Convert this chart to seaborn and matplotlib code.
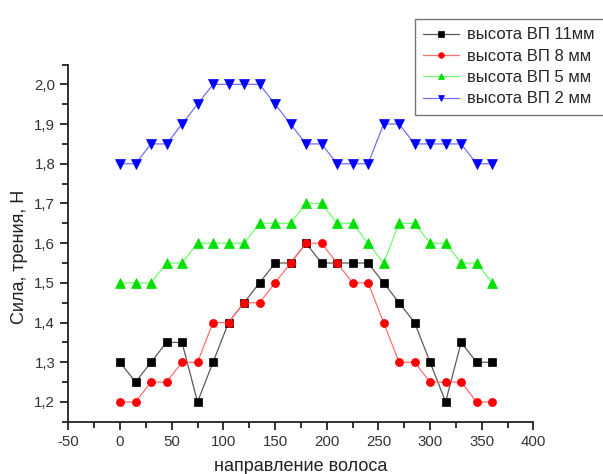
import numpy as np
import pandas as pd
import matplotlib
matplotlib.use("Agg")
import matplotlib.pyplot as plt
import seaborn as sns
from matplotlib.ticker import MultipleLocator, FuncFormatter

angles = [0, 15, 30, 45, 60, 75, 90, 105, 120, 135, 150, 165, 180, 195, 210,
          225, 240, 255, 270, 285, 300, 315, 330, 345, 360]
h11 = [1.30, 1.25, 1.30, 1.35, 1.35, 1.20, 1.30, 1.40, 1.45, 1.50, 1.55, 1.55, 1.60,
       1.55, 1.55, 1.55, 1.55, 1.50, 1.45, 1.40, 1.30, 1.20, 1.35, 1.30, 1.30]
h8 = [1.20, 1.20, 1.25, 1.25, 1.30, 1.30, 1.40, 1.40, 1.45, 1.45, 1.50, 1.55, 1.60,
      1.60, 1.55, 1.50, 1.50, 1.40, 1.30, 1.30, 1.25, 1.25, 1.25, 1.20, 1.20]
h5 = [1.50, 1.50, 1.50, 1.55, 1.55, 1.60, 1.60, 1.60, 1.60, 1.65, 1.65, 1.65, 1.70,
      1.70, 1.65, 1.65, 1.60, 1.55, 1.65, 1.65, 1.60, 1.60, 1.55, 1.55, 1.50]
h2 = [1.80, 1.80, 1.85, 1.85, 1.90, 1.95, 2.00, 2.00, 2.00, 2.00, 1.95, 1.90, 1.85,
      1.85, 1.80, 1.80, 1.80, 1.90, 1.90, 1.85, 1.85, 1.85, 1.85, 1.80, 1.80]
series_labels = ["высота ВП 11мм", "высота ВП 8 мм", "высота ВП 5 мм", "высота ВП 2 мм"]
xlabel = "направление волоса"
ylabel = "Сила, трения, Н"

sns.set_style("ticks")
plt.rcParams["font.family"] = ["Liberation Sans", "DejaVu Sans"]

fig = plt.figure(figsize=(6.03, 4.74), dpi=100)
ax = fig.add_axes([0.1133, 0.1101, 0.7714, 0.7538])

styles = [
    (h11, "#5a5a5a", "black", "s", 5.2),
    (h8, "#ff7070", "#ff0000", "o", 5.8),
    (h5, "#70ff70", "#00e000", "^", 6.6),
    (h2, "#7070ff", "#0000ff", "v", 6.6),
]
for (vals, lc, mc, mk, ms), lab in zip(styles, series_labels):
    df = pd.DataFrame({"angle": angles, "force": vals})
    sns.lineplot(data=df, x="angle", y="force", ax=ax, color=lc, linewidth=0.9,
                 marker=mk, markersize=ms, markerfacecolor=mc, markeredgecolor=mc,
                 markeredgewidth=0.5, label=lab)

ax.set_xlim(-50, 400)
ax.set_ylim(1.15, 2.05)
ax.xaxis.set_major_locator(MultipleLocator(50))
ax.xaxis.set_minor_locator(MultipleLocator(25))
ax.yaxis.set_major_locator(MultipleLocator(0.1))
ax.yaxis.set_minor_locator(MultipleLocator(0.05))
ax.yaxis.set_major_formatter(FuncFormatter(lambda v, p: f"{v:.1f}".replace(".", ",")))
ax.xaxis.set_major_formatter(FuncFormatter(lambda v, p: f"{v:.0f}"))

for s in ["top", "right"]:
    ax.spines[s].set_visible(False)
for s in ["left", "bottom"]:
    ax.spines[s].set_linewidth(1.3)
    ax.spines[s].set_color("#222222")
ax.tick_params(which="major", direction="out", length=6, width=1.3, colors="#222222",
               labelsize=10.8, pad=3.5)
ax.tick_params(which="minor", direction="out", length=4, width=1.3, colors="#222222")
for t in ax.get_xticklabels() + ax.get_yticklabels():
    t.set_color("#333333")

ax.set_xlabel(xlabel, fontsize=13, color="#222222")
ax.set_ylabel(ylabel, fontsize=13, color="#222222")
ax.xaxis.set_label_coords(0.5, -0.101)
ax.yaxis.set_label_coords(-0.087, 0.4626)

leg = ax.legend(loc="upper left", bbox_to_anchor=(415 / 603, 1 - 19 / 474, 196 / 603, 0.0),
                bbox_transform=fig.transFigure, mode="expand", frameon=True, fancybox=False,
                fontsize=12, handlelength=2.15, handletextpad=0.45, markerscale=0.7,
                labelspacing=0.38, borderpad=0.5, borderaxespad=0)
leg.get_frame().set_edgecolor("#555555")
leg.get_frame().set_linewidth(1.0)

fig.savefig("out.png", dpi=100)
